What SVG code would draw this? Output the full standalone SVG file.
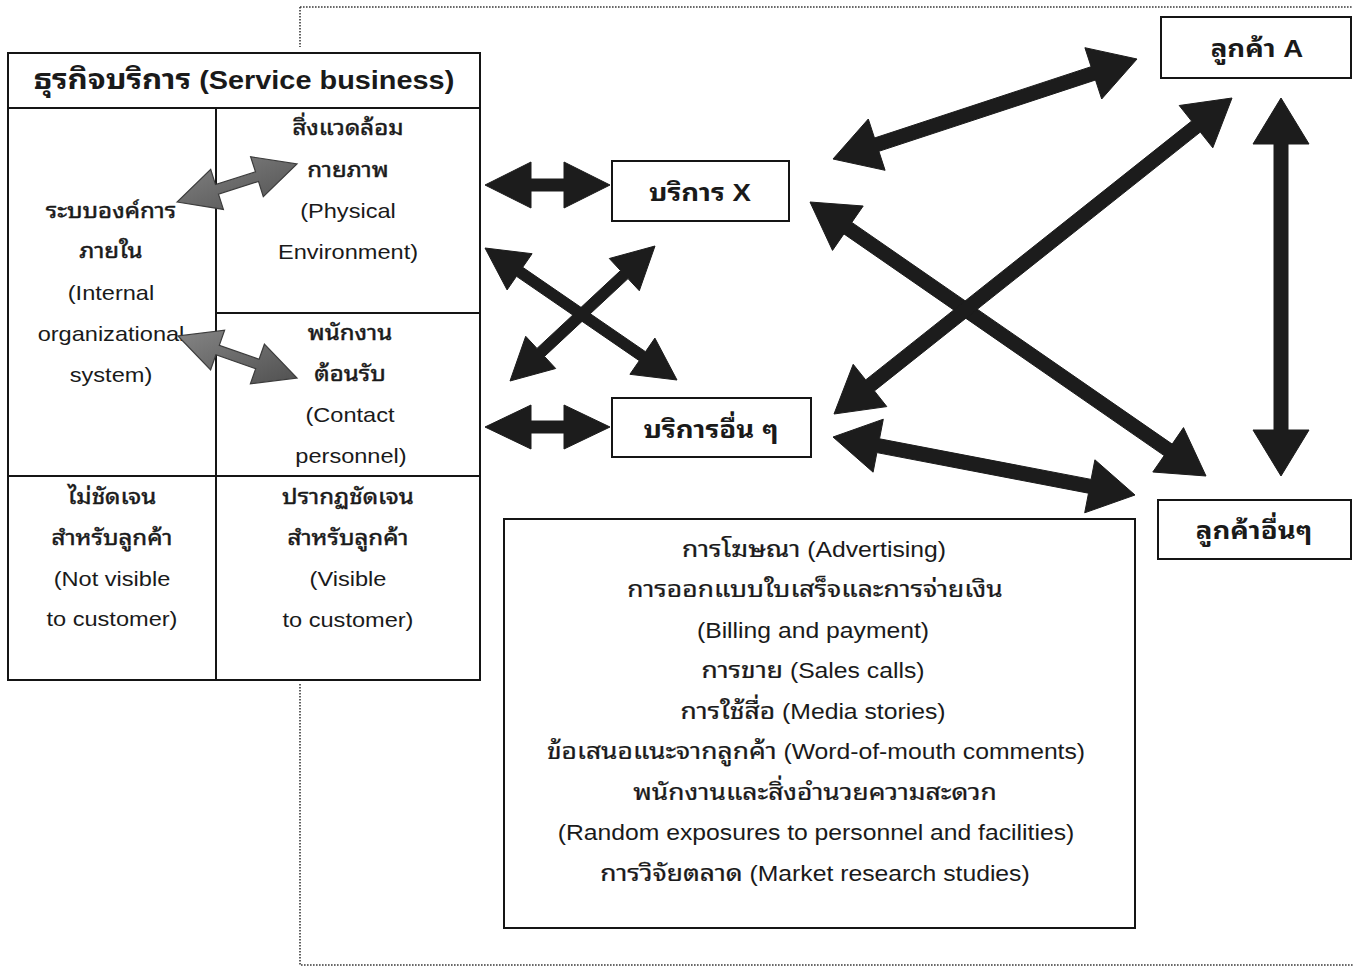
<svg xmlns="http://www.w3.org/2000/svg" width="1353" height="968" viewBox="0 0 1353 968">
  <style>
    .box { fill: #ffffff; stroke: #151515; stroke-width: 2; }
    .rule { stroke: #151515; stroke-width: 2; fill: none; }
    .dot { stroke: #3a3a3a; stroke-width: 1.6; stroke-dasharray: 1.6 1.4; fill: none; }
    .arr { fill: #1c1c1c; stroke: #1c1c1c; stroke-width: 1; stroke-linejoin: miter; }
    .garr { fill: url(#grayFill); stroke: #3c3c3c; stroke-width: 1.2; }
    text { font-family: "Liberation Sans", Arial, "Noto Sans Thai Looped", "Noto Serif Thai", "Loma", "Garuda", "Noto Sans Thai", "DejaVu Sans", sans-serif; fill: #1a1a1a; text-anchor: middle; }
    .t { font-size: 20.5px; transform-box: fill-box; transform-origin: center; transform: scaleX(1.15); }
    .b { font-size: 21.5px; transform-box: fill-box; transform-origin: center; transform: scaleX(1.15); }
    .h { font-size: 25px; font-weight: bold; transform-box: fill-box; transform-origin: center; transform: scaleX(1.155); }
    .n { font-size: 24px; font-weight: bold; transform-box: fill-box; transform-origin: center; transform: scaleX(1.15); }
    .th { font-size: 21px; stroke: #1a1a1a; stroke-width: 0.45; }
    .thb { font-size: 23px; stroke: #1a1a1a; stroke-width: 0.25; }
    .tht { font-size: 27px; }
  </style>
  <defs>
    <linearGradient id="grayFill" x1="0" y1="0" x2="1" y2="1">
      <stop offset="0" stop-color="#858585"/>
      <stop offset="0.5" stop-color="#6a6a6a"/>
      <stop offset="1" stop-color="#505050"/>
    </linearGradient>
  </defs>

  <rect width="1353" height="968" fill="#ffffff"/>

  <!-- dotted frame around the service system -->
  <g id="frame">
    <path class="dot" d="M300,7 H1353 M300,7 V47 M300,684 V965 H1353"/>
  </g>

  <!-- service business block -->
  <g id="service-business">
    <rect class="box" x="8" y="53" width="472" height="627"/>
    <path class="rule" d="M8,108 H480 M216,108 V680 M216,313 H480 M8,476 H480"/>
    <text class="h" x="244" y="89"><tspan class="tht">ธุรกิจบริการ</tspan> (Service business)</text>
  </g>

  <g id="internal-system">
    <text class="t th" x="111" y="218">ระบบองค์การ</text>
    <text class="t th" x="111" y="258">ภายใน</text>
    <text class="t" x="111" y="300">(Internal</text>
    <text class="t" x="111" y="341">organizational</text>
    <text class="t" x="111" y="382">system)</text>
  </g>

  <g id="physical-environment">
    <text class="t th" x="348" y="135">สิ่งแวดล้อม</text>
    <text class="t th" x="348" y="177">กายภาพ</text>
    <text class="t" x="348" y="218">(Physical</text>
    <text class="t" x="348" y="259">Environment)</text>
  </g>

  <g id="contact-personnel">
    <text class="t th" x="350" y="340">พนักงาน</text>
    <text class="t th" x="350" y="381">ต้อนรับ</text>
    <text class="t" x="350" y="422">(Contact</text>
    <text class="t" x="351" y="463">personnel)</text>
  </g>

  <g id="not-visible">
    <text class="t th" x="112" y="504">ไม่ชัดเจน</text>
    <text class="t th" x="112" y="545">สำหรับลูกค้า</text>
    <text class="t" x="112" y="586">(Not visible</text>
    <text class="t" x="112" y="626">to customer)</text>
  </g>

  <g id="visible">
    <text class="t th" x="348" y="504">ปรากฏชัดเจน</text>
    <text class="t th" x="348" y="545">สำหรับลูกค้า</text>
    <text class="t" x="348" y="586">(Visible</text>
    <text class="t" x="348" y="627">to customer)</text>
  </g>

  <!-- services and customers -->
  <g id="service-x">
    <rect class="box" x="612" y="161" width="177" height="60"/>
    <text class="n" x="700" y="201">บริการ X</text>
  </g>

  <g id="other-services">
    <rect class="box" x="612" y="398" width="199" height="59"/>
    <text class="n" x="711" y="438">บริการอื่น ๆ</text>
  </g>

  <g id="customer-a">
    <rect class="box" x="1161" y="17" width="190" height="61"/>
    <text class="n" x="1257" y="57">ลูกค้า A</text>
  </g>

  <g id="other-customers">
    <rect class="box" x="1158" y="500" width="193" height="59"/>
    <text class="n" x="1254" y="539">ลูกค้าอื่นๆ</text>
  </g>

  <!-- other contact channels -->
  <g id="channels">
    <rect class="box" x="504" y="519" width="631" height="409"/>
    <text class="b" x="814" y="557"><tspan class="thb">การโฆษณา</tspan> (Advertising)</text>
    <text class="b thb" x="815" y="597">การออกแบบใบเสร็จและการจ่ายเงิน</text>
    <text class="b" x="813" y="638">(Billing and payment)</text>
    <text class="b" x="813" y="678"><tspan class="thb">การขาย</tspan> (Sales calls)</text>
    <text class="b" x="813" y="719"><tspan class="thb">การใช้สื่อ</tspan> (Media stories)</text>
    <text class="b" x="816" y="759"><tspan class="thb">ข้อเสนอแนะจากลูกค้า</tspan> (Word-of-mouth comments)</text>
    <text class="b thb" x="815" y="800">พนักงานและสิ่งอำนวยความสะดวก</text>
    <text class="b" x="816" y="840">(Random exposures to personnel and facilities)</text>
    <text class="b" x="815" y="881"><tspan class="thb">การวิจัยตลาด</tspan> (Market research studies)</text>
  </g>

  <!-- connectors -->
  <g id="connectors">
    <!-- internal links inside the business block -->
    <polygon class="garr" points="177,202 223.4,209.4 218.5,194.1 258.5,181.4 263.3,196.7 297,164 250.6,156.7 255.5,171.9 215.5,184.6 210.7,169.3"/>
    <polygon class="garr" points="178,336 210.6,369.8 215.9,354.7 255.7,368.7 250.4,383.8 297,378 264.4,344.2 259.1,359.3 219.3,345.3 224.6,330.2"/>

    <!-- business block to services -->
    <polygon class="arr" points="485,185 531,162 531,179 564,179 564,162 610,185 564,208 564,191 531,191 531,208"/>
    <polygon class="arr" points="485,427 531,405 531,421 564,421 564,405 610,427 564,449 564,433 531,433 531,449"/>
    <polygon class="arr" points="485,248 507.1,289.9 516.5,276.3 639.3,360.7 629.9,374.3 677,380 654.9,338.1 645.5,351.7 522.7,267.3 532.1,253.7"/>
    <polygon class="arr" points="655,246 609.3,258.5 620.5,270.6 537.0,348.4 525.7,336.3 510,381 555.7,368.5 544.5,356.4 628.0,278.6 639.3,290.7"/>

    <!-- services to customers -->
    <polygon class="arr" points="833,159 885.1,170.3 878.9,151.3 1095.5,80.0 1101.7,99.0 1137,59 1084.9,47.7 1091.1,66.7 874.5,138.0 868.3,119.0"/>
    <polygon class="arr" points="810,202 832.5,250.4 843.9,233.9 1164.2,455.6 1152.8,472.0 1206,476 1183.5,427.6 1172.2,444.1 851.8,222.4 863.2,206.0"/>
    <polygon class="arr" points="1232,98 1179.2,105.5 1191.6,121.1 865.7,379.9 853.2,364.3 834,414 886.8,406.6 874.4,390.9 1200.3,132.1 1212.8,147.8"/>
    <polygon class="arr" points="833,437 873.1,472.2 876.9,452.6 1088.5,493.2 1084.7,512.8 1135,495 1094.9,459.8 1091.1,479.4 879.5,438.8 883.3,419.2"/>

    <!-- customer to customer -->
    <polygon class="arr" points="1281,98 1253,144 1274,144 1274,430 1253,430 1281,476 1309,430 1288,430 1288,144 1309,144"/>
  </g>
</svg>
